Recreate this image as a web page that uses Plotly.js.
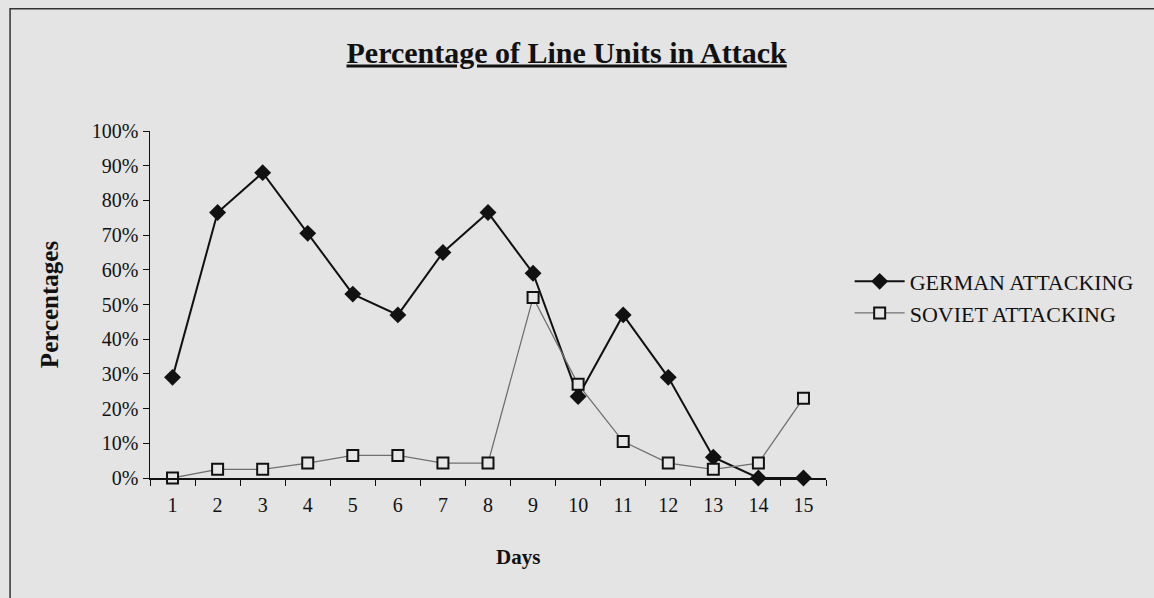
<!DOCTYPE html>
<html>
<head>
<meta charset="utf-8">
<script src="https://cdn.plot.ly/plotly-3.0.1.min.js"></script>
<style>html,body{margin:0;padding:0;background:#e4e4e4;}#chart{width:1154px;height:598px;}</style>
</head>
<body>
<div id="chart"></div>
<script>
var days = ["1","2","3","4","5","6","7","8","9","10","11","12","13","14","15"];
var germanAttacking = [0.29,0.765,0.88,0.705,0.53,0.47,0.65,0.765,0.59,0.235,0.47,0.29,0.06,0,0];
var sovietAttacking = [0,0.025,0.025,0.043,0.065,0.065,0.043,0.043,0.52,0.27,0.105,0.043,0.025,0.043,0.23];
var yTickVals = [0,0.1,0.2,0.3,0.4,0.5,0.6,0.7,0.8,0.9,1];

var serif = "Liberation Serif, Times New Roman, serif";

var traces = [
  {
    x: days, y: germanAttacking, name: "GERMAN ATTACKING", type: "scatter", mode: "lines+markers",
    line: {color: "#111111", width: 2},
    marker: {symbol: "diamond", size: 13, color: "#111111"},
    cliponaxis: false, legendgroup: "g"
  },
  {
    x: days, y: sovietAttacking, name: "SOVIET ATTACKING", type: "scatter", mode: "lines+markers",
    line: {color: "#707070", width: 1.3},
    marker: {symbol: "square", size: 11, color: "#e6e6e6", line: {color: "#111111", width: 2}},
    cliponaxis: false, legendgroup: "s"
  }
];

var layout = {
  width: 1154, height: 598,
  paper_bgcolor: "#e4e4e4", plot_bgcolor: "#e4e4e4",
  margin: {l: 150, r: 328, t: 131, b: 120},
  showlegend: true,
  font: {family: serif, color: "#111111", size: 20},
  title: {
    text: "<u>Percentage of Line Units in Attack</u>",
    font: {family: serif, size: 30, color: "#111111", weight: "bold"},
    xref: "container", x: 0.491, xanchor: "center",
    yref: "container", y: 0.913, yanchor: "middle"
  },
  xaxis: {
    type: "category",
    range: [-0.5, 14.5],
    showgrid: false, zeroline: false,
    showline: true, linecolor: "#111111", linewidth: 1.5,
    ticks: "outside", ticklen: 6, tickcolor: "#111111", tickwidth: 1,
    tickson: "boundaries",
    ticklabelstandoff: 8,
    tickfont: {family: serif, size: 20, color: "#111111"},
    fixedrange: true
  },
  yaxis: {
    range: [0, 1],
    tickvals: yTickVals, tickformat: ".0%",
    showgrid: false, zeroline: false,
    showline: true, linecolor: "#111111", linewidth: 1.5,
    ticks: "outside", ticklen: 6, tickcolor: "#111111", tickwidth: 1,
    tickfont: {family: serif, size: 20, color: "#111111"},
    title: {text: "<b>Percentages</b>", font: {family: serif, size: 25, color: "#111111"}, standoff: 26},
    fixedrange: true
  },
  annotations: [
    {text: "<b>Days</b>", xref: "paper", yref: "paper", x: 0.544, y: -0.228,
     xanchor: "center", yanchor: "middle", showarrow: false,
     font: {family: serif, size: 21, color: "#111111"}}
  ],
  legend: {
    x: 1.035, xanchor: "left", y: 0.52, yanchor: "middle",
    bgcolor: "rgba(0,0,0,0)",
    font: {family: serif, size: 22, color: "#111111"},
    traceorder: "grouped", tracegroupgap: 0,
    itemwidth: 50
  },
  shapes: [
    {type: "rect", xref: "paper", yref: "paper", x0: -0.207, x1: 1.6, y0: -0.6, y1: 1.352,
     line: {color: "#333333", width: 1.5}, fillcolor: "rgba(0,0,0,0)", layer: "below"}
  ]
};

Plotly.newPlot("chart", traces, layout, {displayModeBar: false, staticPlot: true});
</script>
</body>
</html>
